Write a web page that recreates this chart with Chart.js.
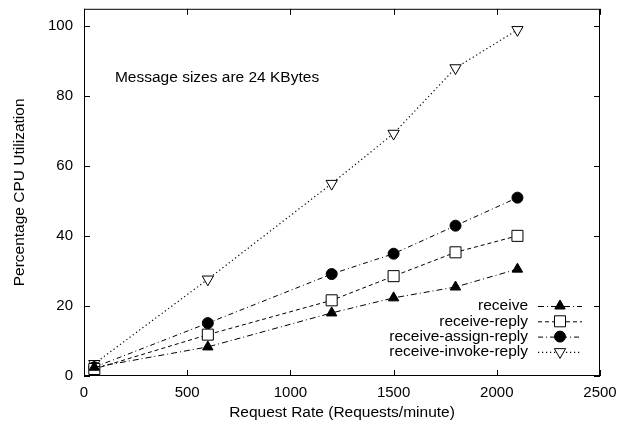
<!DOCTYPE html>
<html>
<head>
<meta charset="utf-8">
<script src="https://cdn.jsdelivr.net/npm/chart.js@4/dist/chart.umd.min.js"></script>
<style>
  html, body { margin: 0; padding: 0; background: #fff; }
  #wrap { width: 631px; height: 427px; position: relative; }
</style>
</head>
<body>
<div id="wrap"><canvas id="cpuChart"></canvas></div>
<script>
// data
const requestRates = [50, 600, 1200, 1500, 1800, 2100];
const receive = [2.5, 8.3, 18, 22.3, 25.4, 30.5];
const receiveReply = [2, 11.8, 21.6, 28.5, 35.3, 40];
const receiveAssignReply = [2.5, 15.1, 29.1, 34.9, 42.9, 50.9];
const receiveInvokeReply = [3.5, 27.6, 54.9, 69.2, 87.9, 98.8];
const seriesNames = ["receive", "receive-reply", "receive-assign-reply", "receive-invoke-reply"];
const xTicks = [0, 500, 1000, 1500, 2000, 2500];
const yTicks = [0, 20, 40, 60, 80, 100];
const note = "Message sizes are 24 KBytes";

const FONT = "'Liberation Sans', Arial, sans-serif";
const TEXT_SIZE = 15.5;

function points(ys) {
    return requestRates.map((x, i) => ({ x: x, y: ys[i] }));
}

const styles = [
    { dash: [6, 3, 1, 3], pointStyle: "triangle", fill: "#000", radius: 6, rotation: 0, width: 1 },
    { dash: [4, 3], pointStyle: "rect", fill: "#fff", radius: 7.8, rotation: 0, width: 1 },
    { dash: [5, 3, 1, 3], pointStyle: "circle", fill: "#000", radius: 5.5, rotation: 0, width: 1 },
    { dash: [1.2, 2.8], pointStyle: "triangle", fill: "#fff", radius: 6.5, rotation: 180, width: 1.2 }
];

const allSeries = [receive, receiveReply, receiveAssignReply, receiveInvokeReply];

const datasets = allSeries.map((ys, i) => ({
    label: seriesNames[i],
    data: points(ys),
    borderColor: "#000",
    borderWidth: styles[i].width,
    borderDash: styles[i].dash,
    pointStyle: styles[i].pointStyle,
    pointRadius: styles[i].radius,
    pointRotation: styles[i].rotation,
    pointBackgroundColor: styles[i].fill,
    pointBorderColor: "#000",
    pointBorderWidth: 1,
    fill: false,
    tension: 0
}));

// frame with inward ticks on all sides, note text and the legend
const gnuplotLook = {
    id: "gnuplotLook",
    afterDraw(chart) {
        const ctx = chart.ctx;
        const a = chart.chartArea;
        const xs = chart.scales.x, ys = chart.scales.y;
        ctx.save();
        ctx.strokeStyle = "#000";
        ctx.lineWidth = 1;
        ctx.setLineDash([]);
        ctx.strokeRect(a.left + 0.5, a.top + 0.5, a.right - a.left - 1, a.bottom - a.top - 1);
        ctx.beginPath();
        xTicks.forEach(v => {
            const px = Math.round(xs.getPixelForValue(v)) + 0.5;
            ctx.moveTo(px, a.bottom); ctx.lineTo(px, a.bottom - 6);
            ctx.moveTo(px, a.top); ctx.lineTo(px, a.top + 6);
        });
        yTicks.forEach(v => {
            const py = Math.round(ys.getPixelForValue(v)) + 0.5;
            ctx.moveTo(a.left, py); ctx.lineTo(a.left + 6, py);
            ctx.moveTo(a.right, py); ctx.lineTo(a.right - 6, py);
        });
        ctx.stroke();

        ctx.fillStyle = "#000";
        ctx.font = TEXT_SIZE + "px " + FONT;
        ctx.textBaseline = "middle";
        ctx.textAlign = "left";
        ctx.fillText(note, xs.getPixelForValue(150), ys.getPixelForValue(85));

        // legend, bottom right
        const textRight = 528, lineL = 538, lineR = 582;
        let rowY = 306;
        chart.data.datasets.forEach((ds) => {
            ctx.font = TEXT_SIZE + "px " + FONT;
            ctx.textAlign = "right";
            ctx.fillStyle = "#000";
            ctx.fillText(ds.label, textRight, rowY);
            ctx.beginPath();
            ctx.lineWidth = ds.borderWidth;
            ctx.setLineDash(ds.borderDash);
            ctx.moveTo(lineL, rowY + 0.5);
            ctx.lineTo(lineR, rowY + 0.5);
            ctx.stroke();
            ctx.setLineDash([]);
            ctx.lineWidth = 1;
            ctx.fillStyle = ds.pointBackgroundColor;
            Chart.helpers.drawPoint(ctx, {
                pointStyle: ds.pointStyle,
                radius: ds.pointRadius,
                rotation: ds.pointRotation,
                borderWidth: 1
            }, (lineL + lineR) / 2, rowY);
            rowY += 15.3;
        });
        ctx.restore();
    }
};

new Chart(document.getElementById("cpuChart").getContext("2d"), {
    type: "line",
    data: { datasets: datasets },
    options: {
        responsive: true,
        maintainAspectRatio: false,
        animation: false,
        layout: { padding: { top: 7, right: 31, left: 0, bottom: 0 } },
        plugins: { legend: { display: false }, tooltip: { enabled: false } },
        scales: {
            x: {
                type: "linear",
                min: 0, max: 2500,
                afterBuildTicks: s => { s.ticks = xTicks.map(v => ({ value: v })); },
                afterFit: s => { s.height = 51; s.paddingLeft = 0; s.paddingRight = 0; },
                grid: { display: false, drawTicks: false },
                border: { display: false },
                ticks: { color: "#000", font: { family: FONT, size: 15 }, padding: 8, maxRotation: 0,
                         callback: v => String(v) },
                title: { display: true, text: "Request Rate (Requests/minute)", color: "#000",
                         font: { family: FONT, size: TEXT_SIZE }, padding: { top: 0, bottom: 5 } }
            },
            y: {
                type: "linear",
                min: 0, max: 104.8,
                afterBuildTicks: s => { s.ticks = yTicks.map(v => ({ value: v })); },
                afterFit: s => { s.width = 84; s.paddingTop = 0; s.paddingBottom = 0; },
                grid: { display: false, drawTicks: false },
                border: { display: false },
                ticks: { color: "#000", font: { family: FONT, size: 15, lineHeight: 0.9 }, padding: 11,
                         callback: v => String(v) },
                title: { display: true, text: "Percentage CPU Utilization", color: "#000",
                         font: { family: FONT, size: TEXT_SIZE }, padding: { top: 10, bottom: 0 } }
            }
        }
    },
    plugins: [gnuplotLook]
});
</script>
</body>
</html>
